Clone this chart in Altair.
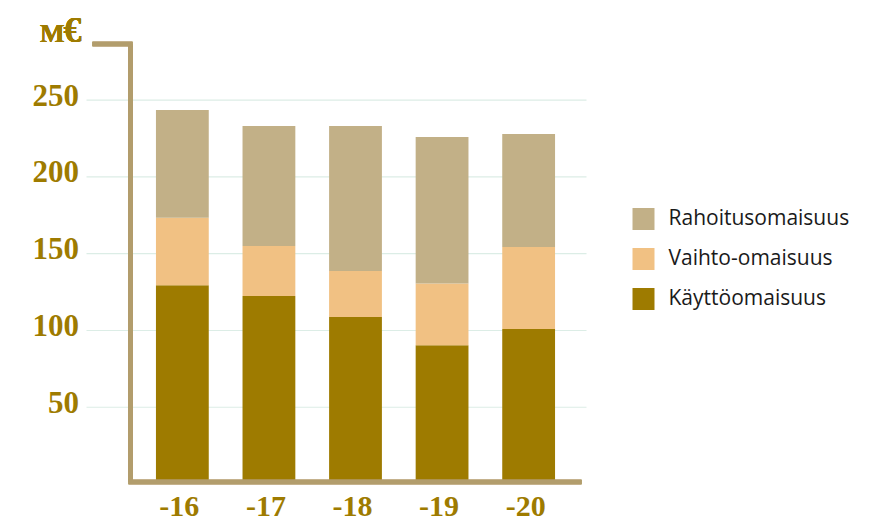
import altair as alt
import pandas as pd

years = ["-16", "-17", "-18", "-19", "-20"]
kayttoomaisuus = [129.5, 122.4, 108.7, 90.3, 101.0]
vaihto_omaisuus = [43.9, 32.6, 30.0, 40.3, 53.3]
rahoitusomaisuus = [70.2, 78.2, 94.5, 95.4, 73.7]
series_names = ["Rahoitusomaisuus", "Vaihto-omaisuus", "Käyttöomaisuus"]
series_colors = ["#C2B087", "#F1C183", "#9E7B00"]
grid_values = [50, 100, 150, 200, 250]

rows = []
for i, y in enumerate(years):
    rows.append({"year": y, "series": "Käyttöomaisuus", "value": kayttoomaisuus[i], "ord": 0})
    rows.append({"year": y, "series": "Vaihto-omaisuus", "value": vaihto_omaisuus[i], "ord": 1})
    rows.append({"year": y, "series": "Rahoitusomaisuus", "value": rahoitusomaisuus[i], "ord": 2})
df = pd.DataFrame(rows)
grid_df = pd.DataFrame({"v": grid_values})

W, H = 450, 440
YMAX = 286.6
GOLD = "#9E7B00"
AXIS = "#B29D6C"
SERIF = "Liberation Serif"

yscale = alt.Scale(domain=[0, YMAX], nice=False, zero=True)
yaxis = alt.Axis(values=grid_values, title=None, domain=False, ticks=False, grid=False,
                 labelFont=SERIF, labelFontWeight="bold", labelFontSize=31,
                 labelColor=GOLD, labelPadding=52, labelBaseline="alphabetic",
                 labelOffset=5)

grid = alt.Chart(grid_df).mark_rule(color="#DCEDE6", strokeWidth=1.2).encode(
    y=alt.Y("v:Q", scale=yscale, axis=yaxis),
    x=alt.value(-44), x2=alt.value(456),
)

bars = alt.Chart(df).mark_bar().encode(
    x=alt.X("year:N", sort=years,
            scale=alt.Scale(paddingInner=0.39, paddingOuter=0.294),
            axis=alt.Axis(title=None, domain=False, ticks=False, labelAngle=0,
                          labelFont=SERIF, labelFontWeight="bold", labelFontSize=30,
                          labelColor=GOLD, labelPadding=31, labelBaseline="alphabetic",
                          labelOffset=-3)),
    y=alt.Y("value:Q", stack="zero", scale=yscale, axis=yaxis),
    color=alt.Color("series:N",
                    scale=alt.Scale(domain=series_names, range=series_colors),
                    legend=alt.Legend(title=None, orient="none", legendX=502, legendY=164,
                                      symbolType="square", symbolSize=484, symbolStrokeWidth=0,
                                      labelFont="Open Sans", labelFontSize=21, labelColor="#1a1a1a",
                                      labelOffset=14, rowPadding=18, padding=0, labelLimit=400)),
    order=alt.Order("ord:Q", sort="ascending"),
)

vline = alt.Chart(grid_df).mark_rule(color=AXIS, strokeWidth=4.5).encode(
    x=alt.value(0), y=alt.value(0), y2=alt.value(H - 2)
)
topstub = alt.Chart(grid_df).mark_rule(color=AXIS, strokeWidth=4.5).encode(
    x=alt.value(-38), x2=alt.value(2), y=alt.value(0)
)
bline = alt.Chart(grid_df).mark_rule(color=AXIS, strokeWidth=4.5).encode(
    x=alt.value(-2), x2=alt.value(451), y=alt.value(H - 2)
)

title_m = alt.Chart(grid_df).mark_text(text="M", font=SERIF, fontWeight="bold", fontSize=26,
                                       color=GOLD, align="right", baseline="alphabetic").encode(
    x=alt.value(-66), y=alt.value(-2)
)
title_e = alt.Chart(grid_df).mark_text(text="€", font=SERIF, fontWeight="bold", fontSize=36,
                                       color=GOLD, align="left", baseline="alphabetic").encode(
    x=alt.value(-67), y=alt.value(-2)
)

chart = alt.layer(grid, bars, vline, topstub, bline, title_m, title_e).properties(
    width=W, height=H,
    autosize=alt.AutoSizeParams(type="none"),
    padding={"left": 122.5, "top": 36, "right": 280, "bottom": 33},
).configure_view(stroke=None).resolve_scale(y="shared")

chart.save("out.html", embed_options={"renderer": "svg", "actions": False})
